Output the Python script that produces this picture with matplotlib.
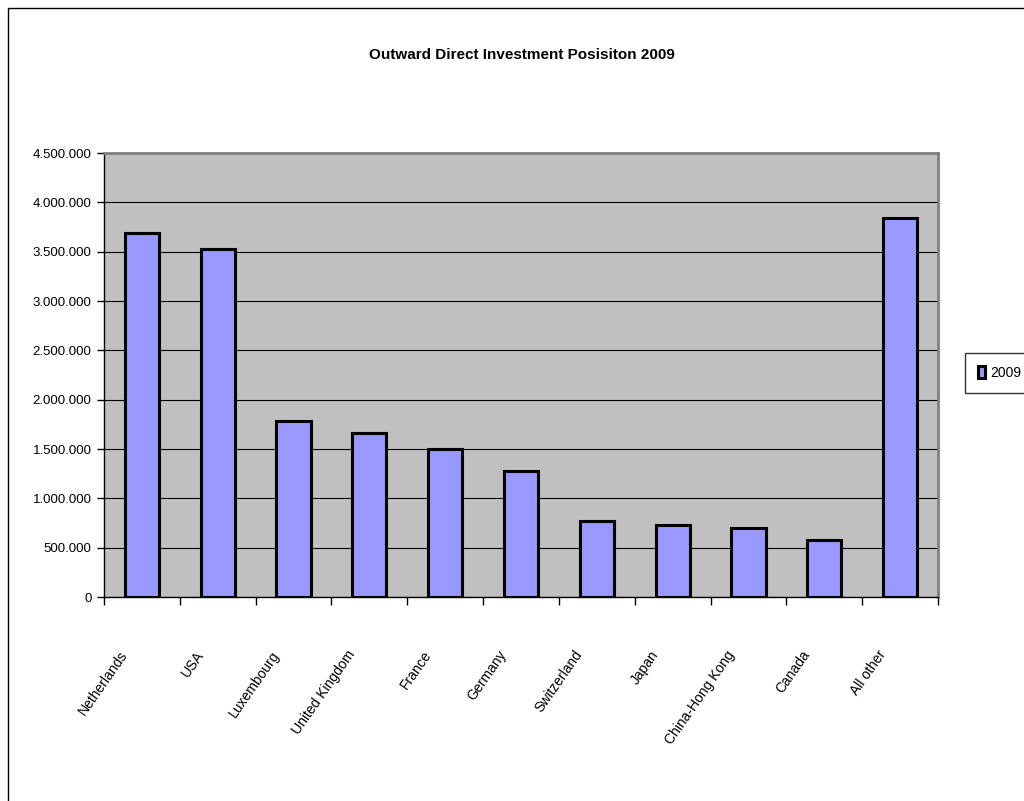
import matplotlib
matplotlib.use("Agg")
import matplotlib.pyplot as plt
from matplotlib.patches import Rectangle
from matplotlib.ticker import FuncFormatter, MultipleLocator
import numpy as np

categories = ["Netherlands", "USA", "Luxembourg", "United Kingdom", "France",
              "Germany", "Switzerland", "Japan", "China-Hong Kong", "Canada", "All other"]
values_2009 = [3685000, 3530000, 1780000, 1660000, 1505000, 1275000,
               770000, 730000, 695000, 578000, 3840000]
series_name = "2009"
title = "Outward Direct Investment Posisiton 2009"

fam = ["Liberation Sans Narrow", "Liberation Sans", "DejaVu Sans"]
plt.rcParams['font.family'] = fam

W, H = 1024, 801
fig = plt.figure(figsize=(W / 100, H / 100), dpi=100)
fig.patch.set_facecolor("white")

# outer chart frame (extends beyond right/bottom edges)
fig.patches.append(Rectangle((8 / W, -0.1), 1.2, 1 - 8 / H + 0.1, transform=fig.transFigure,
                             fill=False, edgecolor="black", linewidth=1.0))

left, right, top, bottom = 104, 938, 153, 597
ax = fig.add_axes([left / W, 1 - bottom / H, (right - left) / W, (bottom - top) / H])
ax.set_facecolor("#C0C0C0")

x = np.arange(len(categories))
ax.bar(x, values_2009, width=0.45, color="#9999FF", edgecolor="black", linewidth=2.2,
       zorder=3, label=series_name)

ax.set_xlim(-0.5, len(categories) - 0.5)
ax.set_ylim(0, 4500000)
ax.yaxis.set_major_locator(MultipleLocator(500000))
ax.yaxis.set_major_formatter(FuncFormatter(lambda v, p: f"{int(v):,}".replace(",", ".")))
ax.grid(axis="y", color="black", linewidth=0.8, zorder=1)

ax.set_xticks(np.arange(-0.5, len(categories) + 0.5, 1))
ax.set_xticklabels([])
ax.tick_params(axis="x", length=6, width=1, direction="out", colors="black")
ax.tick_params(axis="y", length=5, width=1, direction="out", labelsize=9.5, pad=4)
for i, c in enumerate(categories):
    ax.text(i - 0.3, -0.115, c, transform=ax.get_xaxis_transform(), rotation=55,
            ha="right", va="top", fontsize=10, rotation_mode="anchor")

for s in ["top", "right"]:
    ax.spines[s].set_color("#808080")
    ax.spines[s].set_linewidth(2)
for s in ["left", "bottom"]:
    ax.spines[s].set_color("black")
    ax.spines[s].set_linewidth(1)

fig.text(522 / W, 1 - 55 / H, title, ha="center", va="center", fontsize=11, fontweight="bold")

leg = fig.legend(loc="center left", bbox_to_anchor=(965 / W, 1 - 373 / H), frameon=True,
                 fancybox=False, edgecolor="black", fontsize=10, handlelength=0.5,
                 handleheight=0.9, handletextpad=0.4, borderpad=0.95, borderaxespad=0)
leg.get_frame().set_linewidth(1.0)

fig.savefig("out.png", dpi=100)
